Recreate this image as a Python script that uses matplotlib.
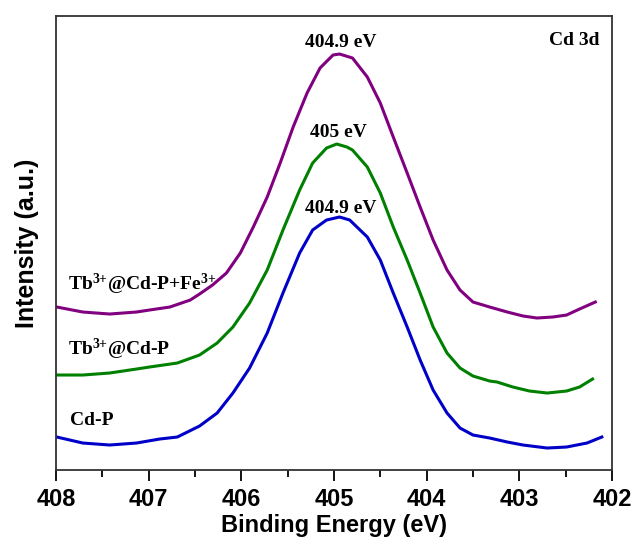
import matplotlib
matplotlib.use('Agg')
import matplotlib.pyplot as plt
from matplotlib.ticker import MultipleLocator

# 数据 (从图上读出, 强度为任意单位)
e_cdp = [407.99, 407.71, 407.42, 407.13, 406.88, 406.69, 406.45, 406.26, 406.09,
         405.91, 405.72, 405.55, 405.37, 405.23, 405.08, 404.94, 404.83, 404.64,
         404.50, 404.36, 404.21, 404.07, 403.93, 403.78, 403.64, 403.50, 403.32,
         403.13, 402.96, 402.70, 402.49, 402.27, 402.11]
i_cdp = [33, 27, 25, 27, 31, 33, 44, 57, 77,
         102, 137, 177, 217, 240, 250, 253, 250, 233,
         210, 177, 143, 110, 80, 57, 42, 35, 32,
         28, 25, 22, 23, 27, 33]

e_tb = [407.99, 407.71, 407.42, 407.13, 406.99, 406.69, 406.45, 406.26, 406.09,
        405.91, 405.72, 405.55, 405.37, 405.23, 405.08, 404.97, 404.86, 404.80,
        404.64, 404.50, 404.36, 404.21, 404.07, 403.93, 403.78, 403.64, 403.50,
        403.32, 403.24, 403.07, 402.89, 402.70, 402.49, 402.35, 402.21]
i_tb = [95, 95, 97, 101, 103, 107, 115, 127, 143,
        167, 200, 240, 280, 307, 322, 326, 323, 320,
        303, 277, 243, 210, 177, 143, 117, 102, 94,
        89, 88, 83, 79, 77, 79, 83, 91]

e_tbfe = [407.99, 407.71, 407.42, 407.13, 406.99, 406.77, 406.55, 406.45, 406.31,
          406.16, 406.01, 405.87, 405.72, 405.58, 405.44, 405.29, 405.15, 405.01,
          404.94, 404.80, 404.64, 404.50, 404.36, 404.21, 404.07, 403.93, 403.78,
          403.64, 403.50, 403.32, 403.13, 402.96, 402.81, 402.64, 402.49, 402.35,
          402.18]
i_tbfe = [163, 158, 156, 158, 160, 163, 170, 176, 185,
          197, 217, 243, 273, 307, 343, 377, 402, 415,
          416, 412, 393, 367, 333, 297, 263, 230, 200,
          180, 168, 163, 158, 154, 152, 153, 155, 161,
          168]

x_ticks = [408, 407, 406, 405, 404, 403, 402]

plt.rcParams['mathtext.fontset'] = 'custom'
plt.rcParams['mathtext.rm'] = 'Liberation Serif:bold'
plt.rcParams['mathtext.it'] = 'Liberation Serif:bold'
plt.rcParams['mathtext.bf'] = 'Liberation Serif:bold'

fig = plt.figure(figsize=(6.35, 5.43), dpi=100)
ax = fig.add_axes([0.088, 0.1344, 0.8758, 0.8361])

ax.plot(e_cdp, i_cdp, color='#0000c8', lw=2.2, solid_joinstyle='round')
ax.plot(e_tb, i_tb, color='#008000', lw=2.2, solid_joinstyle='round')
ax.plot(e_tbfe, i_tbfe, color='#800080', lw=2.2, solid_joinstyle='round')

ax.set_xlim(408, 402)
ax.set_ylim(0, 454)
ax.set_xticks(x_ticks)
ax.xaxis.set_minor_locator(MultipleLocator(0.5))
ax.set_yticks([])
ax.tick_params(axis='x', which='major', direction='out', length=8, width=1.3,
               labelsize=17, pad=5, top=False)
ax.tick_params(axis='x', which='minor', direction='out', length=5, width=1.3, top=False)
for lab in ax.get_xticklabels():
    lab.set_fontfamily('Liberation Sans')
    lab.set_fontweight('bold')
for sp in ax.spines.values():
    sp.set_linewidth(1.3)
    sp.set_color('#333333')

ax.set_xlabel('Binding Energy (eV)', fontsize=17, fontweight='bold',
              family='Liberation Sans', labelpad=2)
ax.set_ylabel('Intensity (a.u.)', fontsize=18, fontweight='bold',
              family='Liberation Sans', labelpad=12)

txt = dict(fontsize=14, fontweight='bold', family='Liberation Serif', va='baseline')
ax.text(404.93, 423, '404.9 eV', ha='center', **txt)
ax.text(404.95, 333, '405 eV', ha='center', **txt)
ax.text(404.93, 257, '404.9 eV', ha='center', **txt)
ax.text(402.41, 425, 'Cd 3d', ha='center', **txt)
ax.text(407.87, 180, 'Tb$^{3{+}}$@Cd-P+Fe$^{3{+}}$', ha='left', **txt)
ax.text(407.87, 115, 'Tb$^{3{+}}$@Cd-P', ha='left', **txt)
ax.text(407.85, 45, 'Cd-P', ha='left', **txt)

plt.savefig('out.png', dpi=100)
